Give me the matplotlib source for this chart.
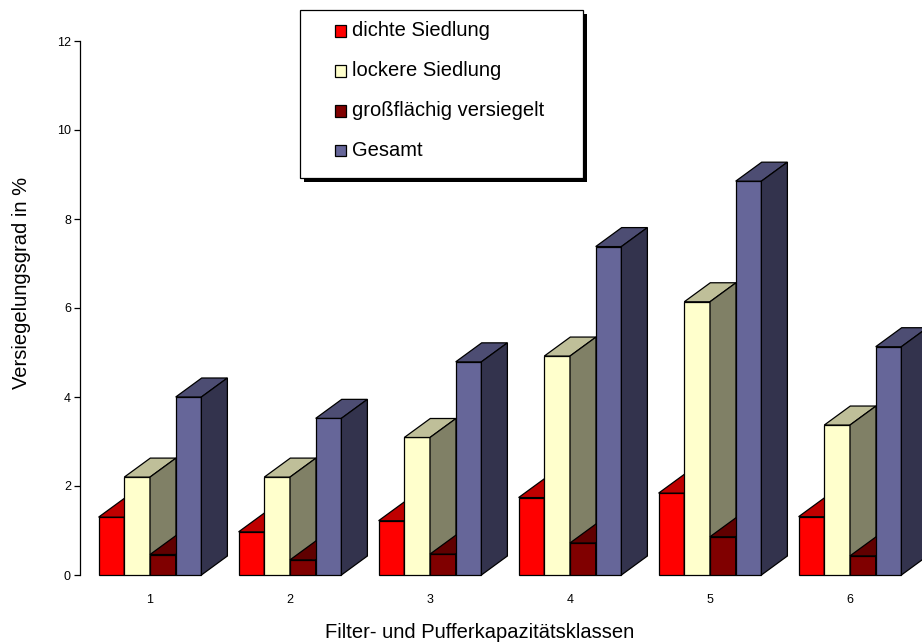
import numpy as np
import matplotlib
matplotlib.use('Agg')
import matplotlib.pyplot as plt
from matplotlib.patches import Polygon, Rectangle

plt.rcParams['font.family'] = ['Liberation Sans', 'DejaVu Sans']

klassen = ['1', '2', '3', '4', '5', '6']
serien = ['dichte Siedlung', 'lockere Siedlung', 'großflächig versiegelt', 'Gesamt']
dichte = [1.30, 0.97, 1.22, 1.74, 1.84, 1.31]
locker = [2.20, 2.20, 3.09, 4.92, 6.14, 3.37]
grossflaechig = [0.46, 0.34, 0.47, 0.72, 0.86, 0.43]
gesamt = [4.00, 3.52, 4.79, 7.38, 8.85, 5.13]
farben = ['#ff0000', '#ffffcc', '#800000', '#666699']


def shade(c, f):
    r, g, b = matplotlib.colors.to_rgb(c)
    return (r * f, g * f, b * f)


W, H = 922, 643
fig = plt.figure(figsize=(W / 100, H / 100), dpi=100)
ax = fig.add_axes([80 / W, 68 / H, 840 / W, 534 / H])
ax.set_xlim(0.5, 6.5)
ax.set_ylim(0, 12)

bw = 25.7 / 140          # bar width in category units
dx = 26 / 140            # depth offset, x
dy = 19 / 44.5           # depth offset, y
werte = [dichte, locker, grossflaechig, gesamt]

for g in range(len(klassen)):
    x0 = g + 1 - 2 * bw
    for s, vals in enumerate(werte):
        l = x0 + s * bw
        r = l + bw
        v = vals[g]
        c = farben[s]
        kw = dict(ec='black', lw=0.9, clip_on=False, joinstyle='miter')
        ax.add_patch(Polygon([(l, 0), (r, 0), (r, v), (l, v)], fc=c, **kw))
        ax.add_patch(Polygon([(l, v), (r, v), (r + dx, v + dy), (l + dx, v + dy)],
                             fc=shade(c, 0.75), **kw))
        ax.add_patch(Polygon([(r, 0), (r + dx, dy), (r + dx, v + dy), (r, v)],
                             fc=shade(c, 0.5), **kw))

for sp in ['top', 'right', 'bottom']:
    ax.spines[sp].set_visible(False)
ax.spines['left'].set_linewidth(0.9)
ax.set_yticks(np.arange(0, 13, 2))
ax.set_xticks(range(1, 7))
ax.set_xticklabels(klassen)
ax.tick_params(axis='y', direction='out', length=4, width=0.9, pad=2.5, labelsize=9)
ax.tick_params(axis='x', length=0, pad=14, labelsize=9)

def px(x, y):
    return x / W, 1 - y / H

fig.text(*px(22, 283), 'Versiegelungsgrad in %', fontsize=14.5,
         rotation=90, ha='center', va='center')
fig.text(*px(480, 632), 'Filter- und Pufferkapazitätsklassen',
         fontsize=14.5, ha='center', va='center')

# legend box with hard shadow
bx0, by0, bx1, by1 = 300, 10, 583, 178
fig.patches.append(Rectangle(px(bx0 + 4, by1 + 4), (bx1 - bx0) / W, (by1 - by0) / H,
                             transform=fig.transFigure, fc='black', ec='black', lw=0))
fig.patches.append(Rectangle(px(bx0, by1), (bx1 - bx0) / W, (by1 - by0) / H,
                             transform=fig.transFigure, fc='white', ec='black', lw=0.9))
for i, name in enumerate(serien):
    yc = 31 + i * 40
    fig.patches.append(Rectangle(px(335, yc + 5.5), 11 / W, 11 / H, transform=fig.transFigure,
                                 fc=farben[i], ec='black', lw=0.9))
    fig.text(*px(352, yc), name, fontsize=14.5, va='center', ha='left')

fig.savefig('out.png', dpi=100)
